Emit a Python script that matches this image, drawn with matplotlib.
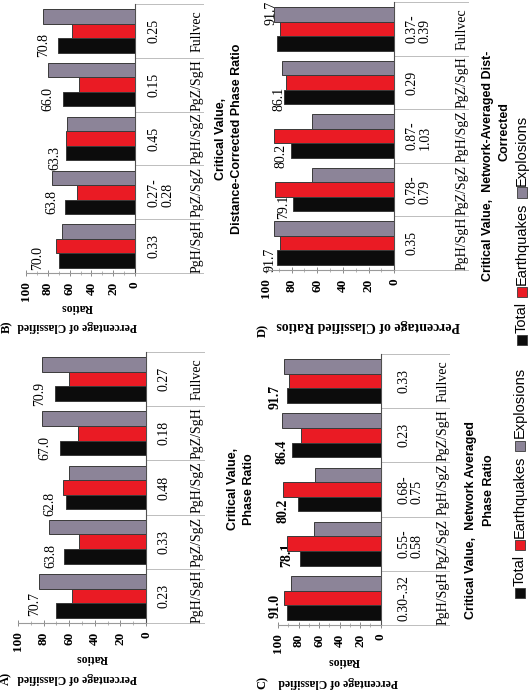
import matplotlib
matplotlib.use("Agg")
import matplotlib.pyplot as plt
import numpy as np
from matplotlib import transforms as mtransforms
from matplotlib.patches import Rectangle
from matplotlib.ticker import MultipleLocator

# ---------------- data ----------------
categories = ["PgH/SgH", "PgZ/SgZ", "PgH/SgZ", "PgZ/SgH", "Fullvec"]
series_names = ["Total", "Earthquakes", "Explosions"]

a_total = [70.7, 63.8, 62.8, 67.0, 70.9]
a_eq = [58.0, 52.0, 65.0, 53.0, 60.0]
a_ex = [83.6, 75.5, 60.0, 81.5, 81.5]
a_crit = ["0.23", "0.33", "0.48", "0.18", "0.27"]

b_total = [70.0, 63.8, 63.3, 66.0, 70.8]
b_eq = [72.8, 53.0, 63.6, 51.4, 58.0]
b_ex = [67.2, 76.4, 62.7, 80.0, 84.0]
b_crit = ["0.33", "0.27-\n0.28", "0.45", "0.15", "0.25"]

c_total = [91.0, 78.1, 80.2, 86.4, 91.7]
c_eq = [94.0, 91.7, 95.0, 77.8, 89.5]
c_ex = [87.8, 64.8, 64.0, 96.0, 94.0]
c_crit = ["0.30-.32", "0.55-\n0.58", "0.68-\n0.75", "0.23", "0.33"]

d_total = [91.7, 79.1, 80.2, 86.1, 91.7]
d_eq = [88.8, 92.7, 94.0, 84.8, 88.8]
d_ex = [93.7, 64.5, 64.5, 87.5, 93.7]
d_crit = ["0.35", "0.78-\n0.79", "0.87-\n1.03", "0.29", "0.37-\n0.39"]

value_ticks = [0, 20, 40, 60, 80, 100]

# ---------------- style ----------------
W, H = 530, 693
fig = plt.figure(figsize=(W / 100, H / 100), dpi=100)
fig.patch.set_facecolor("white")

SERIF = "Liberation Serif"
SANS = "Liberation Sans"

colors = ["#0c0c0c", "#ea1b24", "#8c8498"]
edge = "#3a3a3a"


def fx(x):
    return x / W


def fy(y):
    return 1 - y / H


panels = [
    dict(total=a_total, eq=a_eq, ex=a_ex, crit=a_crit, box=(18, 146, 352, 623),
         crit_dx=12, cat_dx=51, tab_w=58, bold_lab=False,
         lab_dx=[16.0, 10.4, 12.2, 12.0, 11.9],
         lab_dy=[-0.15, -0.26, -0.30, -0.27, -0.27]),
    dict(total=b_total, eq=b_eq, ex=b_ex, crit=b_crit, box=(26, 135, 4, 273),
         crit_dx=13, cat_dx=62, tab_w=68, bold_lab=False,
         lab_dx=[19.0, 12.3, 10.1, 13.8, 12.7],
         lab_dy=[-0.22, -0.18, -0.36, -0.27, -0.26]),
    dict(total=c_total, eq=c_eq, ex=c_ex, crit=c_crit, box=(278, 380.7, 354, 625),
         crit_dx=17, cat_dx=62, tab_w=68, bold_lab=True,
         lab_dx=[12.0, 13.3, 15.1, 9.9, 11.3],
         lab_dy=[-0.15, -0.21, -0.39, -0.30, -0.30]),
    dict(total=d_total, eq=d_eq, ex=d_ex, crit=d_crit, box=(266, 394.3, 2, 270),
         crit_dx=11, cat_dx=68, tab_w=74, bold_lab=False,
         lab_dx=[5.3, 7.1, 8.3, 3.6, 4.6],
         lab_dy=[-0.31, -0.33, -0.37, -0.30, 0.30]),
]

ypos = np.arange(len(categories))
bh = 0.27

for p in panels:
    l, r, t, b = p["box"]
    ax = fig.add_axes([fx(l), fy(b), (r - l) / W, (b - t) / H])
    ax.set_facecolor("none")
    for k, vals in enumerate([p["total"], p["eq"], p["ex"]]):
        ax.barh(ypos + (k - 1) * bh, vals, height=bh, color=colors[k],
                edgecolor=edge, linewidth=0.7, zorder=3)
    ax.set_xlim(100, 0)
    ax.set_ylim(-0.5, len(categories) - 0.5)
    ax.set_yticks([])
    ax.set_xticks(value_ticks)
    ax.xaxis.set_minor_locator(MultipleLocator(10))
    ax.set_xticklabels([str(v) for v in value_ticks], rotation=90,
                       family=SERIF, fontweight="bold", fontsize=9.5)
    ax.tick_params(axis="x", which="major", direction="inout", length=4,
                   width=0.6, color="#777777", pad=4)
    ax.tick_params(axis="x", which="minor", direction="inout", length=2.5,
                   width=0.5, color="#999999")
    for s in ["top", "left"]:
        ax.spines[s].set_visible(False)
    ax.spines["bottom"].set_color("#9a9a9a")
    ax.spines["bottom"].set_linewidth(0.8)
    ax.spines["right"].set_color("#505050")
    ax.spines["right"].set_linewidth(0.8)

    # value labels of the Total series
    for i, v in enumerate(p["total"]):
        ax.text(v + p["lab_dx"][i], i + p["lab_dy"][i], f"{v:.1f}", rotation=90,
                ha="center", va="center", family=SERIF, fontsize=10,
                fontweight="bold" if p["bold_lab"] else "normal",
                zorder=2, clip_on=False)

    # data table to the right of the zero line
    blend = mtransforms.blended_transform_factory(ax.transAxes, ax.transData)
    aw = r - l
    for i, cat in enumerate(categories):
        tr1 = blend + mtransforms.ScaledTranslation(p["crit_dx"] / 100, 0, fig.dpi_scale_trans)
        ax.text(1, i, p["crit"][i], transform=tr1, rotation=90, ha="left", va="center",
                family=SERIF, fontsize=10, linespacing=1.0, clip_on=False)
        tr2 = blend + mtransforms.ScaledTranslation(p["cat_dx"] / 100, 0, fig.dpi_scale_trans)
        ax.text(1, i, cat, transform=tr2, rotation=90, ha="center", va="center",
                family=SERIF, fontsize=10, clip_on=False)
    for k in range(len(categories) + 1):
        ax.plot([1, 1 + p["tab_w"] / aw], [k - 0.5, k - 0.5], transform=blend,
                color="#bdbdbd", lw=0.7, clip_on=False, zorder=1)

# ---------------- axis titles ----------------
def ftext(x, y, s, **kw):
    return fig.text(fx(x), fy(y), s, **kw)


xl_kw = dict(rotation=90, ha="center", va="center", family=SANS,
             fontweight="bold", fontsize=9, linespacing=1.5)
ftext(241, 489, "Critical Value,\nPhase Ratio", **xl_kw)
ftext(229, 139, "Critical Value,\nDistance-Corrected Phase Ratio", **xl_kw)
ftext(471, 520, "Critical Value,  Network Averaged", **xl_kw)
ftext(489, 490, "Phase Ratio", **xl_kw)
ftext(488, 166, "Critical Value,  Network-Averaged Dist-", **xl_kw)
ftext(505, 132, "Corrected", **xl_kw)

yl_kw = dict(rotation=180, ha="center", va="center", family=SERIF,
             fontweight="bold", fontsize=8.5)
ftext(92, 658, "Ratios", **yl_kw)
ftext(77, 678, "Percentage of Classified", **yl_kw)
ftext(77, 307, "Ratios", **yl_kw)
ftext(77, 326, "Percentage of Classified", **yl_kw)
ftext(344, 661, "Ratios", **yl_kw)
ftext(338, 682, "Percentage of Classified", **yl_kw)
ftext(368, 325, "Percentage of Classified Ratios", rotation=180, ha="center",
      va="center", family=SERIF, fontweight="bold", fontsize=10)

pl_kw = dict(rotation=90, ha="center", va="center", family=SERIF,
             fontweight="bold", fontsize=9)
ftext(6, 678, "A)", **pl_kw)
ftext(7, 327, "B)", **pl_kw)
ftext(263, 682, "C)", **pl_kw)
ftext(263, 330, "D)", **pl_kw)

# ---------------- legends (drawn rotated, laid out bottom to top) ----------------
renderer = fig.canvas.get_renderer()


def legend(xc, y_start, fs=10.5):
    sq = 10
    y = y_start
    for k in range(3):
        fig.patches.append(Rectangle((fx(xc - sq / 2), fy(y)), sq / W, sq / H,
                                     transform=fig.transFigure,
                                     facecolor=colors[k], edgecolor=edge, lw=0.6))
        y -= sq + 2
        t = ftext(xc, y, series_names[k], rotation=90, rotation_mode="anchor",
                  ha="left", va="center", family=SANS, fontsize=fs)
        ext = t.get_window_extent(renderer)
        y -= ext.height + 5


legend(520, 598)
legend(522, 345)

fig.savefig("out.png", dpi=100, facecolor="white")
